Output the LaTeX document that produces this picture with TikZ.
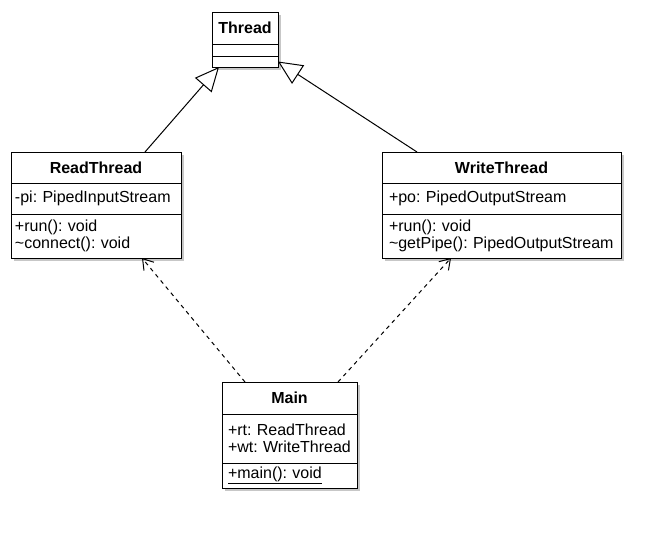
\documentclass[tikz,border=0pt]{standalone}
\usepackage{fontspec}
\setmainfont{Liberation Sans}
\usetikzlibrary{positioning,arrows.meta,shadows}

\newcommand{\umlfont}{\fontsize{16}{17.5}\selectfont\frenchspacing}

\tikzset{
  umlshadow/.style={drop shadow={opacity=0.22, shadow xshift=3pt, shadow yshift=-3pt, fill=black}},
  classname/.style={draw, fill=white, umlshadow, line width=1pt, outer sep=0pt,
    inner xsep=4pt, inner ysep=0pt, text width=#1, align=center, anchor=north,
    font=\umlfont\bfseries},
  classpart/.style={draw, fill=white, umlshadow, line width=1pt, outer sep=0pt,
    inner xsep=4pt, inner ysep=0pt, text width=#1, align=left, anchor=north,
    font=\umlfont},
  extends/.style={-{Triangle[fill=white, length=24pt, width=22pt, line width=1pt]}, line width=1pt},
  uses/.style={-{Straight Barb[length=10pt, width=13pt, line width=1pt]}, line width=1pt,
    dash pattern=on 4pt off 4pt},
}

\begin{document}
\begin{tikzpicture}[x=1pt, y=-1pt]
  \useasboundingbox (0,0) rectangle (670,538);

  % Classe mere
  \node[classname=58pt, minimum height=32pt] (thread) at (245,12) {Thread};
  \node[classpart=58pt, minimum height=12pt, below=0pt of thread] (threadattr) {};
  \node[classpart=58pt, minimum height=11pt, below=0pt of threadattr] (threadops) {};

  % Lecteur
  \node[classname=162pt, minimum height=31pt] (read) at (96,152) {ReadThread};
  \node[classpart=162pt, minimum height=31pt, below=0pt of read] (readattr) {-pi: PipedInputStream};
  \node[classpart=162pt, minimum height=44pt, below=0pt of readattr] (readops)
    {+run(): void\\\textasciitilde connect(): void};

  % Ecrivain
  \node[classname=231pt, minimum height=31pt] (write) at (501.5,152) {WriteThread};
  \node[classpart=225pt, inner xsep=7pt, minimum height=31pt, below=0pt of write] (writeattr)
    {+po: PipedOutputStream};
  \node[classpart=225pt, inner xsep=7pt, minimum height=44pt, below=0pt of writeattr] (writeops)
    {+run(): void\\\textasciitilde getPipe(): PipedOutputStream};

  % Programme principal
  \node[classname=127pt, minimum height=32pt] (main) at (289.5,382) {Main};
  \node[classpart=123pt, inner xsep=6pt, minimum height=49pt, below=0pt of main] (mainattr)
    {+rt: ReadThread\\+wt: WriteThread};
  \node[classpart=123pt, inner xsep=6pt, minimum height=25pt, below=0pt of mainattr] (mainops)
    {\underline{+main(): void}};

  % Heritage
  \draw[extends] ([xshift=49pt]read.north) -- ([xshift=-26pt]threadops.south);
  \draw[extends] ([xshift=-84.5pt]write.north) -- (threadops.east);

  % Dependances
  \draw[uses] ([xshift=-44.5pt]main.north) -- ([xshift=46pt]readops.south);
  \draw[uses] ([xshift=48.5pt]main.north) -- ([xshift=-50.5pt]writeops.south);
\end{tikzpicture}
\end{document}
